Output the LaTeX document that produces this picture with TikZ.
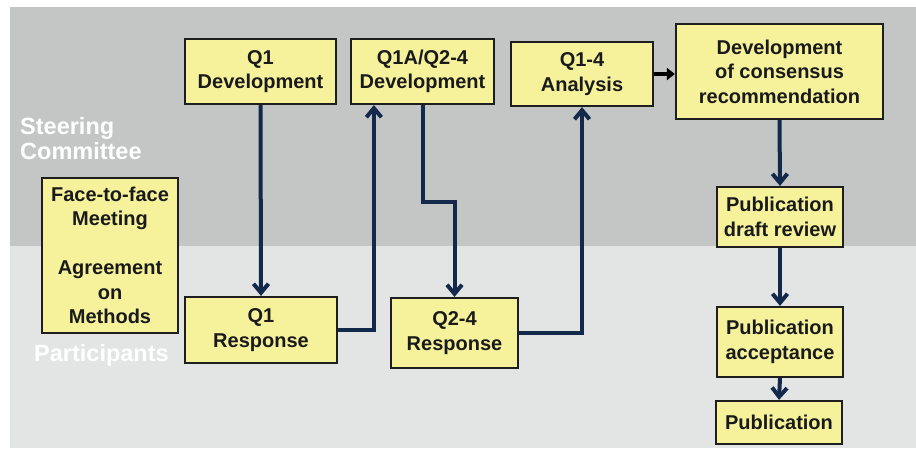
\documentclass[tikz,border=0pt]{standalone}
\usepackage{fontspec}
\setmainfont{Liberation Sans}
\usetikzlibrary{arrows.meta,calc}
\definecolor{bandtop}{HTML}{C4C5C5}
\definecolor{bandbot}{HTML}{E3E4E4}
\definecolor{boxfill}{HTML}{F6F29B}
\definecolor{boxline}{HTML}{1E1E1E}
\definecolor{txt}{HTML}{1A1A1A}
\definecolor{navy}{HTML}{13294B}
\tikzset{
  stepbox/.style={draw=boxline, line width=2.2pt, fill=boxfill, inner sep=0pt,
    align=center, text=txt, font=\bfseries\fontsize{20}{24.5}\selectfont},
  flow/.style={draw=navy, line width=4pt, -{Straight Barb[length=9pt,width=15pt]}},
  blackflow/.style={draw=black, line width=4pt, -{Triangle[length=8pt,width=12pt]}},
  bandlabel/.style={text=white, font=\bfseries\fontsize{23.5}{25}\selectfont, align=left, inner sep=0pt, anchor=west}
}
\newcommand{\bx}[6]{% name, x1, y1, x2, y2, text
  \node[stepbox, minimum width={(#4-#2)*1pt}, minimum height={(#5-#3)*1pt}] (#1) at ({(#2+#4)/2},{(#3+#5)/2}) {#6};}
\begin{document}
\begin{tikzpicture}[x=1pt,y=-1pt]
\useasboundingbox (0,0) rectangle (916,448);
\fill[white] (0,0) rectangle (916,448);
\fill[bandtop] (10,7) rectangle (916,246);
\fill[bandbot] (10,246) rectangle (916,448);
\node[bandlabel] (sc) at (20,139) {Steering\\Committee};
\node[bandlabel] (pa) at (34,355) {Participants};
\bx{q1d}{185}{39}{336}{104}{Q1\\Development}
\bx{q1a}{351}{39}{494}{104}{Q1A/Q2-4\\Development}
\bx{ana}{511}{42}{653}{106}{Q1-4\\Analysis}
\bx{dev}{676}{24}{883}{119}{Development\\of consensus\\recommendation}
\bx{pdr}{717}{187}{843}{247}{Publication\\draft review}
\bx{pac}{717}{307}{843}{377}{Publication\\acceptance}
\bx{pub}{716}{401}{842}{444}{Publication}
\bx{ftf}{42}{178}{178}{333}{Face-to-face\\Meeting\\[24.5pt]Agreement\\on\\Methods}
\bx{q1r}{185}{297}{337}{363}{Q1\\Response}
\bx{q2r}{391}{298}{518}{368}{Q2-4\\Response}
\draw[flow] (q1d.south) -- (q1r.north);
\draw[flow] (q1r.east) -| ([xshift=24pt]q1a.south west);
\draw[flow] (q1a.south) -- ++(0,97) -| (q2r.north);
\draw[flow] (q2r.east) -| (ana.south);
\draw[blackflow] (ana.east) -- (ana.east -| dev.west);
\draw[flow] (dev.south) -- (pdr.north);
\draw[flow] (pdr.south) -- (pac.north);
\draw[flow] (pac.south) -- (pub.north);
\end{tikzpicture}
\end{document}
